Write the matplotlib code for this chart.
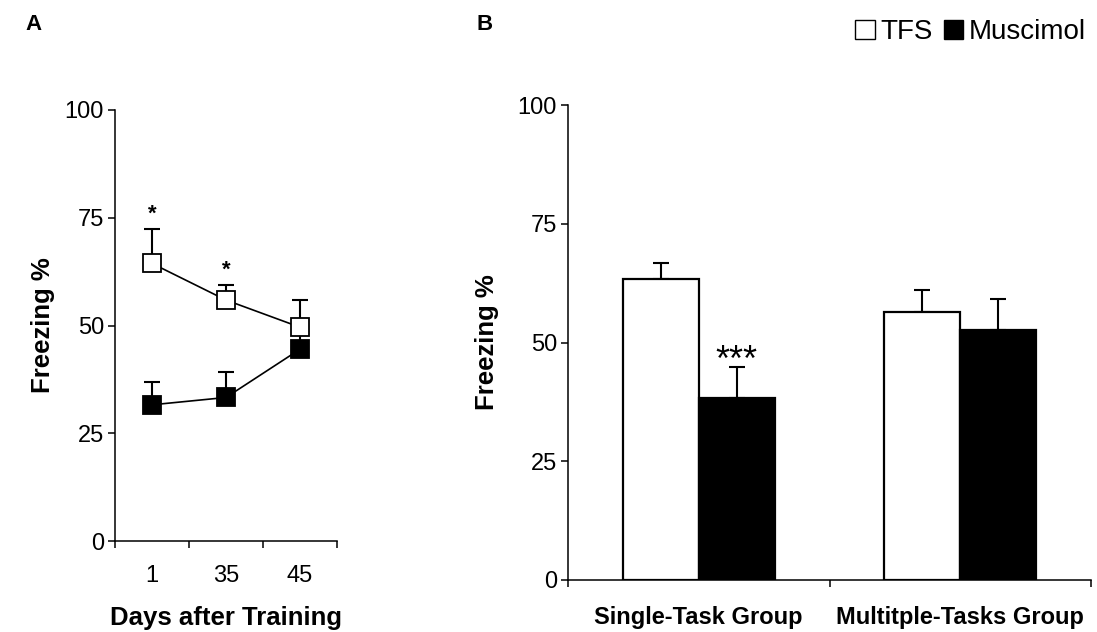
import matplotlib
matplotlib.use("Agg")
import matplotlib.pyplot as plt
from matplotlib.patches import Patch
import numpy as np

plt.rcParams['font.family'] = ['Liberation Sans', 'DejaVu Sans']

# panel A: freezing over days
days = ['1', '35', '45']
tfs_days = [64.4, 55.9, 49.6]
tfs_days_err = [8.1, 3.6, 6.3]
mus_days = [31.6, 33.3, 44.5]
mus_days_err = [5.2, 5.8, 4.5]
days_stars = ['*', '*', '']

# panel B: groups
groups = ['Single-Task Group', 'Multitple-Tasks Group']
tfs_grp = [63.3, 56.4]
tfs_grp_err = [3.5, 4.6]
mus_grp = [38.4, 52.6]
mus_grp_err = [6.4, 6.5]
grp_stars = ['***', '']

W, H = 1097, 632
fig = plt.figure(figsize=(W / 100, H / 100), dpi=100)

axA = fig.add_axes([115 / W, 1 - 541 / H, 222 / W, 431 / H])
axB = fig.add_axes([568 / W, 1 - 580 / H, 523 / W, 475 / H])

for ax in (axA, axB):
    for s in ('top', 'right'):
        ax.spines[s].set_visible(False)
    for s in ('left', 'bottom'):
        ax.spines[s].set_linewidth(1.1)
    ax.set_ylim(0, 100)
    ax.set_yticks([0, 25, 50, 75, 100])
    ax.tick_params(axis='y', direction='out', length=5, width=1.1,
                   labelsize=17, pad=3)
    ax.tick_params(axis='x', which='major', direction='out', length=5,
                   width=1.1, labelbottom=False)

# ---- panel A
x = np.arange(len(days)) + 0.5
axA.set_xlim(0, len(days))
axA.set_xticks(np.arange(len(days) + 1))
axA.set_xticks(x, minor=True)
axA.set_xticklabels(days, minor=True)
axA.tick_params(axis='x', which='minor', length=0, labelsize=17, pad=17)

axA.errorbar(x, mus_days, yerr=[np.zeros(3), mus_days_err], fmt='none',
             ecolor='black', elinewidth=1.5, capsize=6, capthick=1.5, zorder=1)
axA.errorbar(x, tfs_days, yerr=[np.zeros(3), tfs_days_err], fmt='none',
             ecolor='black', elinewidth=1.5, capsize=6, capthick=1.5, zorder=1)
axA.plot(x, mus_days, color='black', lw=1.2, marker='s', ms=12.5,
         mfc='black', mec='black', mew=1.3, zorder=3)
axA.plot(x, tfs_days, color='black', lw=1.2, marker='s', ms=12.5,
         mfc='white', mec='black', mew=1.3, zorder=4)
for xi, v, e, s in zip(x, tfs_days, tfs_days_err, days_stars):
    if s:
        axA.text(xi, v + e + 0.8, s, ha='center', va='bottom',
                 fontsize=16, fontweight='bold')

axA.set_ylabel('Freezing %', fontsize=18.5, fontweight='bold', labelpad=7)
axA.set_xlabel('Days after Training', fontsize=18.5, fontweight='bold',
               labelpad=14)

# ---- panel B
xg = np.arange(len(groups)) + 0.5
bw = 0.29
axB.set_xlim(0, len(groups))
axB.set_xticks(np.arange(len(groups) + 1))
axB.set_xticks(xg, minor=True)
axB.set_xticklabels(groups, minor=True)
axB.tick_params(axis='x', which='minor', length=0, labelsize=17, pad=19)
for lab in axB.get_xticklabels(minor=True):
    lab.set_fontweight('bold')

axB.bar(xg - bw / 2, tfs_grp, bw, color='white', edgecolor='black',
        linewidth=1.6, zorder=2)
axB.bar(xg + bw / 2, mus_grp, bw, color='black', edgecolor='black',
        linewidth=1.6, zorder=2)
axB.errorbar(xg - bw / 2, tfs_grp, yerr=[np.zeros(2), tfs_grp_err],
             fmt='none', ecolor='black', elinewidth=1.5, capsize=5.5,
             capthick=1.5, zorder=1)
axB.errorbar(xg + bw / 2, mus_grp, yerr=[np.zeros(2), mus_grp_err],
             fmt='none', ecolor='black', elinewidth=1.5, capsize=5.5,
             capthick=1.5, zorder=1)
for xi, v, e, s in zip(xg + bw / 2, mus_grp, mus_grp_err, grp_stars):
    if s:
        axB.text(xi, v + e - 2.5, s, ha='center', va='bottom', fontsize=26)

axB.set_ylabel('Freezing %', fontsize=18.5, fontweight='bold', labelpad=13)

fig.text(25 / W, 1 - 24 / H, 'A', fontsize=16, fontweight='bold',
         ha='left', va='center')
fig.text(476 / W, 1 - 24 / H, 'B', fontsize=16, fontweight='bold',
         ha='left', va='center')

handles = [Patch(facecolor='white', edgecolor='black', label='TFS'),
           Patch(facecolor='black', edgecolor='black', label='Muscimol')]
fig.legend(handles=handles, loc='upper right',
           bbox_to_anchor=(1111 / W, 1 + 6 / H), ncol=2, frameon=False,
           fontsize=20, handlelength=0.7, handleheight=0.7,
           handletextpad=0.2, columnspacing=0.4)

fig.savefig('out.png', dpi=100)
